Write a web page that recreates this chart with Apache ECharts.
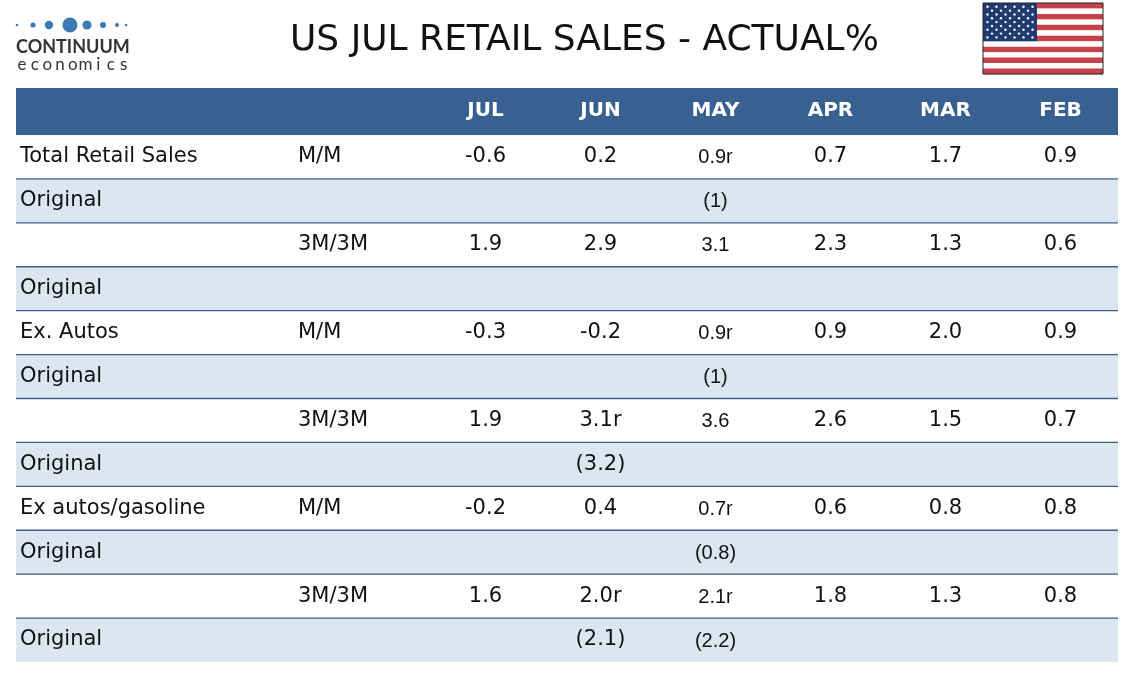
<!DOCTYPE html>
<html>
<head>
<meta charset="UTF-8">
<script src="https://cdn.jsdelivr.net/npm/echarts@6/dist/echarts.min.js"></script>
<style>
  html, body { margin: 0; padding: 0; background: #fff; }
  #chart { width: 1134px; height: 680px; }
</style>
</head>
<body>
<div id="chart"></div>
<script>
var months = ['JUL', 'JUN', 'MAY', 'APR', 'MAR', 'FEB'];
var rowLabels = ['Total Retail Sales', 'Original', '', 'Original', 'Ex. Autos', 'Original', '', 'Original', 'Ex autos/gasoline', 'Original', '', 'Original'];
var rowMeasures = ['M/M', '', '3M/3M', '', 'M/M', '', '3M/3M', '', 'M/M', '', '3M/3M', ''];
var jul = ['-0.6', '', '1.9', '', '-0.3', '', '1.9', '', '-0.2', '', '1.6', ''];
var jun = ['0.2', '', '2.9', '', '-0.2', '', '3.1r', '(3.2)', '0.4', '', '2.0r', '(2.1)'];
var may = ['0.9r', '(1)', '3.1', '', '0.9r', '(1)', '3.6', '', '0.7r', '(0.8)', '2.1r', '(2.2)'];
var apr = ['0.7', '', '2.3', '', '0.9', '', '2.6', '', '0.6', '', '1.8', ''];
var mar = ['1.7', '', '1.3', '', '2.0', '', '1.5', '', '0.8', '', '1.3', ''];
var feb = ['0.9', '', '0.6', '', '0.9', '', '0.7', '', '0.8', '', '0.8', ''];
var columns = [jul, jun, may, apr, mar, feb];

// ---- layout ----
var tableLeft = 16;
var headerH = 47;
var bandColor = '#dce6f1';
var headColor = '#386192';
var ruleColor = '#3d5d88';
var font = 'DejaVu Sans';
var bodyFont = '21px "' + font + '"';

var rowIdx = rowLabels.map(function (_, i) { return i; });

// cells built from the columns
var cells = [];
columns.forEach(function (col, c) {
    col.forEach(function (txt, r) {
        if (txt !== '') cells.push({ c: c, r: r, t: txt });
    });
});

function renderHeader(params, api) {
    var cs = params.coordSys;
    return {
        type: 'rect',
        shape: { x: tableLeft, y: cs.y - headerH, width: cs.x + cs.width - tableLeft, height: headerH },
        style: { fill: headColor }
    };
}

function rowBox(params, api) {
    var cs = params.coordSys;
    var r = api.value(1);
    var p = api.coord([0, r]);
    var h = api.size([0, 1])[1];
    return { r: r, top: p[1] - h / 2, h: h, right: cs.x + cs.width };
}

function renderRow(params, api) {
    var b = rowBox(params, api);
    return {
        type: 'rect',
        shape: { x: tableLeft, y: b.top, width: b.right - tableLeft, height: b.h },
        style: { fill: b.r % 2 === 1 ? bandColor : '#ffffff' }
    };
}

// rule between rows, drawn above all backgrounds
function renderRule(params, api) {
    var b = rowBox(params, api);
    if (b.r === 0) return null;
    return {
        type: 'line',
        shape: { x1: tableLeft, y1: b.top, x2: b.right, y2: b.top },
        style: { stroke: ruleColor, lineWidth: 1.3 }
    };
}

function renderLabels(params, api) {
    var r = api.value(1);
    var p = api.coord([0, r]);
    return {
        type: 'group',
        children: [{
            type: 'text',
            x: tableLeft + 4, y: p[1],
            style: { text: rowLabels[r], fill: '#111', font: bodyFont, textVerticalAlign: 'middle' }
        }, {
            type: 'text',
            x: tableLeft + 282, y: p[1],
            style: { text: rowMeasures[r], fill: '#111', font: bodyFont, textVerticalAlign: 'middle' }
        }]
    };
}

function renderCell(params, api) {
    var d = cells[params.dataIndex];
    var p = api.coord([api.value(0), api.value(1)]);
    var isMay = months[d.c] === 'MAY';
    return {
        type: 'text',
        x: p[0], y: p[1] + (isMay ? 1 : 0),
        style: {
            text: d.t,
            fill: '#111',
            font: isMay ? '20px "Liberation Sans"' : bodyFont,
            textAlign: 'center',
            textVerticalAlign: 'middle'
        }
    };
}

// flag + logo decoration
var graphics = [];
var fx = 983, fy = 3, fw = 120, fh = 71, sh = fh / 13;
for (var i = 0; i < 13; i++) {
    graphics.push({ type: 'rect', shape: { x: fx, y: fy + i * sh, width: fw, height: sh + 0.3 }, style: { fill: i % 2 === 0 ? '#c8414b' : '#ffffff' } });
}
var cw = 54, ch = sh * 7;
graphics.push({ type: 'rect', shape: { x: fx, y: fy, width: cw, height: ch }, style: { fill: '#1f3b6f' } });
for (var sr = 0; sr < 9; sr++) {
    var n = sr % 2 === 0 ? 6 : 5;
    for (var sc = 0; sc < n; sc++) {
        var sx = fx + cw / 12 * (sr % 2 === 0 ? 1 + sc * 2 : 2 + sc * 2);
        var sy = fy + ch / 10 * (sr + 1);
        graphics.push({ type: 'circle', shape: { cx: sx, cy: sy, r: 1.2 }, style: { fill: '#ffffff' } });
    }
}
graphics.push({ type: 'rect', shape: { x: fx, y: fy, width: fw, height: fh }, style: { fill: 'none', stroke: '#222', lineWidth: 1 } });

var dotX = [17, 33, 49, 70, 87, 103, 117, 126];
var dotR = [1.3, 2.6, 4.2, 7.5, 4.6, 3, 2, 1.3];
dotX.forEach(function (x, k) {
    graphics.push({ type: 'circle', shape: { cx: x, cy: 25, r: dotR[k] }, style: { fill: '#3b7ab4' } });
});
graphics.push({ type: 'text', x: 16, y: 47, style: { text: 'CONTINUUM', fill: '#333', font: 'bold 18px Lato', textVerticalAlign: 'middle' } });
'economics'.split('').forEach(function (ch2, k) {
    graphics.push({ type: 'text', x: 22 + k * 12.7, y: 65, style: { text: ch2, fill: '#333', font: '17px Lato', textAlign: 'center', textVerticalAlign: 'middle' } });
});

var rowData = rowIdx.map(function (r) { return [0, r]; });

var chart = echarts.init(document.getElementById('chart'));
chart.setOption({
    animation: false,
    title: {
        text: 'US JUL RETAIL SALES - ACTUAL%',
        left: 285, top: 18,
        textStyle: { fontFamily: font, fontSize: 36, fontWeight: 'normal', color: '#111' }
    },
    graphic: graphics,
    grid: { left: 428, right: 16, top: 88 + headerH, bottom: 18 },
    xAxis: {
        type: 'category',
        data: months,
        position: 'top',
        z: 10,
        axisLine: { show: false },
        axisTick: { show: false },
        splitLine: { show: false },
        axisLabel: { color: '#fff', fontFamily: font, fontWeight: 'bold', fontSize: 20, margin: 24, verticalAlign: 'middle' }
    },
    yAxis: {
        type: 'category',
        data: rowIdx,
        inverse: true,
        show: false
    },
    series: [{
        type: 'custom', silent: true, z: 1,
        renderItem: renderHeader,
        data: [[0, 0]]
    }, {
        type: 'custom', silent: true, z: 2,
        renderItem: renderRow,
        data: rowData
    }, {
        type: 'custom', silent: true, z: 3,
        renderItem: renderRule,
        data: rowData
    }, {
        type: 'custom', silent: true, z: 4,
        renderItem: renderLabels,
        data: rowData
    }, {
        type: 'custom', silent: true, z: 5,
        renderItem: renderCell,
        data: cells.map(function (d) { return [d.c, d.r]; })
    }]
});
</script>
</body>
</html>
